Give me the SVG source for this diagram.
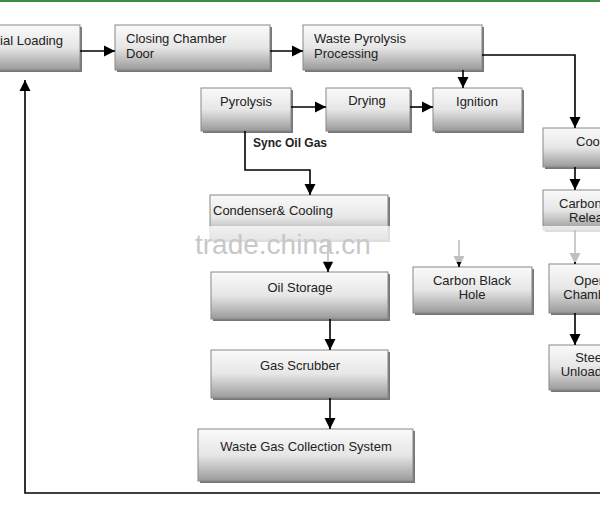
<svg xmlns="http://www.w3.org/2000/svg" width="600" height="509" viewBox="0 0 600 509">
<defs>
<linearGradient id="g" x1="0" y1="0" x2="0" y2="1"><stop offset="0" stop-color="#fafafa"/><stop offset="0.5" stop-color="#e6e6e6"/><stop offset="1" stop-color="#9a9a9a"/></linearGradient>
<marker id="a" viewBox="0 0 10 10" refX="10" refY="5" markerWidth="7" markerHeight="7" orient="auto"><path d="M0,0 L10,5 L0,10 z" fill="#000"/></marker>
</defs>
<style>
.b{fill:url(#g);stroke:#888;stroke-width:1}
.s{fill:#777}
text{font-family:"Liberation Sans",Arial,sans-serif;font-size:13px;fill:#222}
.c{stroke:#000;stroke-width:1.6;fill:none;marker-end:url(#a)}
</style>
<rect width="600" height="509" fill="#fff"/>
<line x1="0" y1="1" x2="600" y2="1" stroke="#3a8a4a" stroke-width="2"/>
<g id="n1"><rect class="s" x="-40" y="27" width="122" height="45"/><rect class="b" x="-42" y="25" width="122" height="45"/><text x="63" y="45" text-anchor="end">Material Loading</text></g>
<g id="n2"><rect class="s" x="117" y="27" width="155" height="45"/><rect class="b" x="115" y="25" width="155" height="45"/><text x="126" y="43">Closing Chamber</text><text x="126" y="58">Door</text></g>
<g id="n3"><rect class="s" x="305" y="27" width="179" height="45"/><rect class="b" x="303" y="25" width="179" height="45"/><text x="314" y="43">Waste Pyrolysis</text><text x="314" y="58">Processing</text></g>
<g id="n4"><rect class="s" x="203" y="90" width="90" height="43"/><rect class="b" x="201" y="88" width="90" height="43"/><text x="246" y="106" text-anchor="middle">Pyrolysis</text></g>
<g id="n5"><rect class="s" x="328" y="90" width="84" height="43"/><rect class="b" x="326" y="88" width="84" height="43"/><text x="367" y="105" text-anchor="middle">Drying</text></g>
<g id="n6"><rect class="s" x="435" y="90" width="89" height="43"/><rect class="b" x="433" y="88" width="89" height="43"/><text x="477" y="106" text-anchor="middle">Ignition</text></g>
<g id="n7"><rect class="s" x="545" y="130" width="80" height="39"/><rect class="b" x="543" y="128" width="80" height="39"/><text x="576" y="146">Cooling</text></g>
<g id="n8"><rect class="s" x="545" y="192" width="80" height="40"/><rect class="b" x="543" y="190" width="80" height="40"/><text x="559" y="208">Carbon Black</text><text x="569" y="222">Release</text></g>
<g id="n9"><rect class="s" x="212" y="197" width="178" height="45"/><rect class="b" x="210" y="195" width="178" height="45"/><text x="213" y="215">Condenser&amp; Cooling</text></g>
<g id="n10"><rect class="s" x="213" y="274" width="177" height="47"/><rect class="b" x="211" y="272" width="177" height="47"/><text x="300" y="292" text-anchor="middle"> Oil Storage</text></g>
<g id="n11"><rect class="s" x="415" y="269" width="119" height="46"/><rect class="b" x="413" y="267" width="119" height="46"/><text x="472" y="285" text-anchor="middle">Carbon Black</text><text x="472" y="299" text-anchor="middle">Hole</text></g>
<g id="n12"><rect class="s" x="551" y="266" width="70" height="49"/><rect class="b" x="549" y="264" width="70" height="49"/><text x="590" y="285" text-anchor="middle">Open</text><text x="590" y="299" text-anchor="middle">Chamber</text></g>
<g id="n13"><rect class="s" x="213" y="352" width="177" height="48"/><rect class="b" x="211" y="350" width="177" height="48"/><text x="300" y="370" text-anchor="middle">Gas Scrubber</text></g>
<g id="n14"><rect class="s" x="551" y="347" width="70" height="45"/><rect class="b" x="549" y="345" width="70" height="45"/><text x="590" y="362" text-anchor="middle">Steel</text><text x="590" y="376" text-anchor="middle">Unloading</text></g>
<g id="n15"><rect class="s" x="200" y="431" width="215" height="52"/><rect class="b" x="198" y="429" width="215" height="52"/><text x="306" y="451" text-anchor="middle">Waste Gas Collection System</text></g>
<g id="connectors">
<path class="c" d="M80,51 H115"/>
<path class="c" d="M270,51 H303"/>
<path class="c" d="M463,70 V88"/>
<path class="c" d="M482,55 H575 V128"/>
<path class="c" d="M291,107 H326"/>
<path class="c" d="M410,107 H433"/>
<path class="c" d="M245,131 V170 H310 V195"/>
<path class="c" d="M575,167 V190"/>
<path class="c" d="M328,240 V272"/>
<path class="c" d="M459,240 V267"/>
<path class="c" d="M575,230 V264"/>
<path class="c" d="M330,319 V350"/>
<path class="c" d="M575,313 V345"/>
<path class="c" d="M330,398 V429"/>
<path class="c" d="M600,493 H25 V80"/>
</g>
<text x="253" y="147" style="font-weight:bold;font-size:12px">Sync Oil Gas</text>
<rect x="190" y="226" width="410" height="36" fill="#fff" opacity="0.75"/>
<text x="195" y="254" style="font-size:28px;fill:#c8c8c8">trade.china.cn</text>
</svg>
